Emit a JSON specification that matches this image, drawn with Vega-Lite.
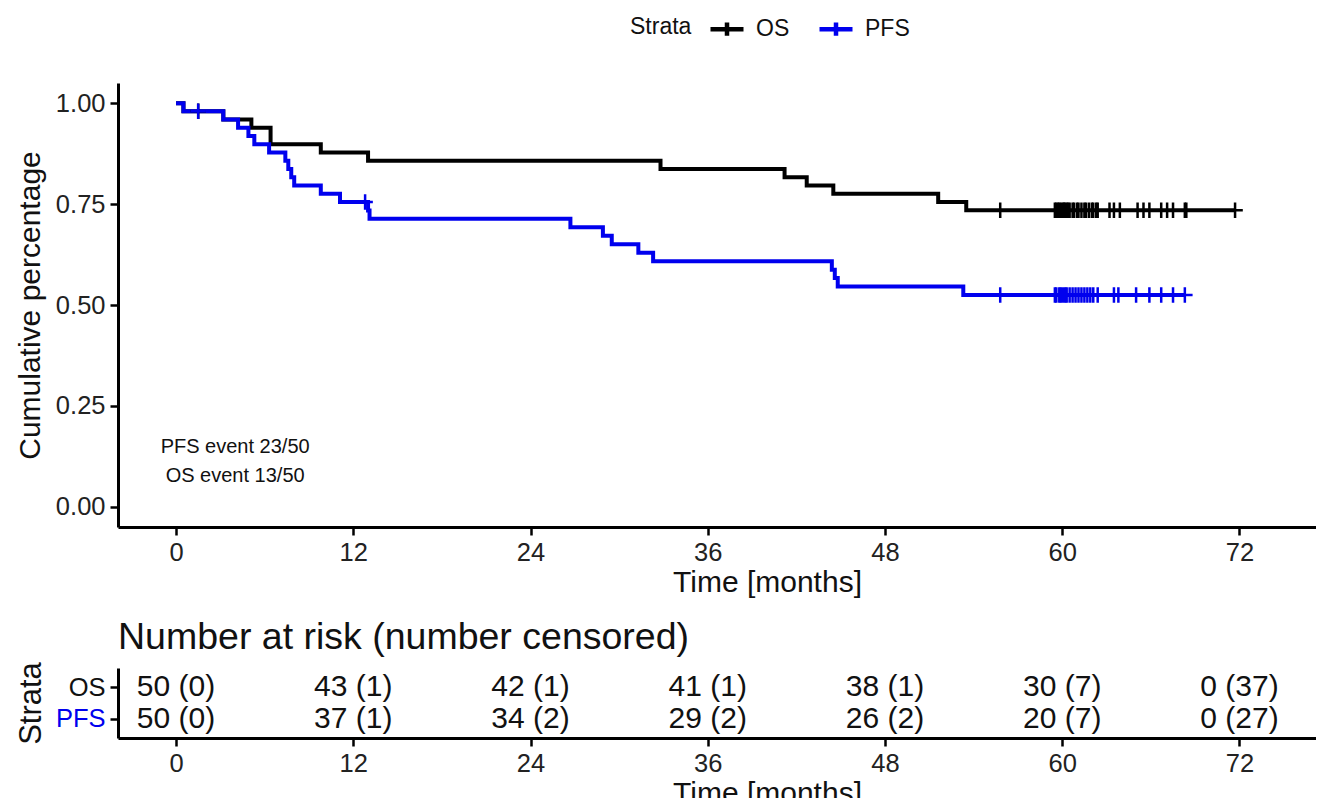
{
  "$schema": "https://vega.github.io/schema/vega-lite/v6.json",
  "padding": {"left": 15, "top": 10, "right": 0, "bottom": 0},
  "bounds": "flush",
  "spacing": 141,
  "config": {
    "font": "Liberation Sans",
    "view": {"stroke": null},
    "axis": {
      "domainColor": "#000000", "domainWidth": 3, "tickColor": "#000000", "tickWidth": 2.5, "tickSize": 8,
      "labelColor": "#222222", "labelFontSize": 25.5, "labelPadding": 5,
      "titleFontSize": 30, "titleFontWeight": "normal", "titleColor": "#111111", "grid": false
    }
  },
  "datasets": {
    "km": [
      {"strata": "OS", "time": 0, "surv": 1},
      {"strata": "OS", "time": 0.5, "surv": 0.98},
      {"strata": "OS", "time": 3.2, "surv": 0.9596},
      {"strata": "OS", "time": 5.1, "surv": 0.9392},
      {"strata": "OS", "time": 6.4, "surv": 0.8983},
      {"strata": "OS", "time": 9.8, "surv": 0.8779},
      {"strata": "OS", "time": 13.0, "surv": 0.8575},
      {"strata": "OS", "time": 32.8, "surv": 0.8371},
      {"strata": "OS", "time": 41.2, "surv": 0.8167},
      {"strata": "OS", "time": 42.7, "surv": 0.7963},
      {"strata": "OS", "time": 44.5, "surv": 0.7758},
      {"strata": "OS", "time": 51.6, "surv": 0.7554},
      {"strata": "OS", "time": 53.5, "surv": 0.735},
      {"strata": "OS", "time": 71.7, "surv": 0.735},
      {"strata": "PFS", "time": 0, "surv": 1},
      {"strata": "PFS", "time": 0.5, "surv": 0.98},
      {"strata": "PFS", "time": 3.2, "surv": 0.9596},
      {"strata": "PFS", "time": 4.2, "surv": 0.9392},
      {"strata": "PFS", "time": 4.9, "surv": 0.9188},
      {"strata": "PFS", "time": 5.3, "surv": 0.8983},
      {"strata": "PFS", "time": 6.3, "surv": 0.8779},
      {"strata": "PFS", "time": 7.4, "surv": 0.8575},
      {"strata": "PFS", "time": 7.6, "surv": 0.8371},
      {"strata": "PFS", "time": 7.8, "surv": 0.8167},
      {"strata": "PFS", "time": 8.0, "surv": 0.7963},
      {"strata": "PFS", "time": 9.8, "surv": 0.7758},
      {"strata": "PFS", "time": 11.1, "surv": 0.7554},
      {"strata": "PFS", "time": 13.0, "surv": 0.7344},
      {"strata": "PFS", "time": 13.1, "surv": 0.7135},
      {"strata": "PFS", "time": 26.7, "surv": 0.6925},
      {"strata": "PFS", "time": 28.9, "surv": 0.6715},
      {"strata": "PFS", "time": 29.5, "surv": 0.6505},
      {"strata": "PFS", "time": 31.3, "surv": 0.6295},
      {"strata": "PFS", "time": 32.3, "surv": 0.6086},
      {"strata": "PFS", "time": 44.4, "surv": 0.5876},
      {"strata": "PFS", "time": 44.6, "surv": 0.5666},
      {"strata": "PFS", "time": 44.8, "surv": 0.5456},
      {"strata": "PFS", "time": 53.3, "surv": 0.5246},
      {"strata": "PFS", "time": 68.3, "surv": 0.5246}
    ],
    "cens": [
      {"strata": "OS", "time": 1.5, "surv": 0.98},
      {"strata": "OS", "time": 55.8, "surv": 0.735},
      {"strata": "OS", "time": 59.5, "surv": 0.735},
      {"strata": "OS", "time": 59.6, "surv": 0.735},
      {"strata": "OS", "time": 59.7, "surv": 0.735},
      {"strata": "OS", "time": 59.8, "surv": 0.735},
      {"strata": "OS", "time": 59.9, "surv": 0.735},
      {"strata": "OS", "time": 60.05, "surv": 0.735},
      {"strata": "OS", "time": 60.1, "surv": 0.735},
      {"strata": "OS", "time": 60.2, "surv": 0.735},
      {"strata": "OS", "time": 60.3, "surv": 0.735},
      {"strata": "OS", "time": 60.4, "surv": 0.735},
      {"strata": "OS", "time": 60.5, "surv": 0.735},
      {"strata": "OS", "time": 60.7, "surv": 0.735},
      {"strata": "OS", "time": 60.8, "surv": 0.735},
      {"strata": "OS", "time": 61.0, "surv": 0.735},
      {"strata": "OS", "time": 61.1, "surv": 0.735},
      {"strata": "OS", "time": 61.3, "surv": 0.735},
      {"strata": "OS", "time": 61.5, "surv": 0.735},
      {"strata": "OS", "time": 61.6, "surv": 0.735},
      {"strata": "OS", "time": 61.8, "surv": 0.735},
      {"strata": "OS", "time": 62.0, "surv": 0.735},
      {"strata": "OS", "time": 62.1, "surv": 0.735},
      {"strata": "OS", "time": 62.3, "surv": 0.735},
      {"strata": "OS", "time": 62.4, "surv": 0.735},
      {"strata": "OS", "time": 63.2, "surv": 0.735},
      {"strata": "OS", "time": 63.5, "surv": 0.735},
      {"strata": "OS", "time": 63.9, "surv": 0.735},
      {"strata": "OS", "time": 65.1, "surv": 0.735},
      {"strata": "OS", "time": 65.5, "surv": 0.735},
      {"strata": "OS", "time": 65.9, "surv": 0.735},
      {"strata": "OS", "time": 66.7, "surv": 0.735},
      {"strata": "OS", "time": 67.1, "surv": 0.735},
      {"strata": "OS", "time": 67.5, "surv": 0.735},
      {"strata": "OS", "time": 68.3, "surv": 0.735},
      {"strata": "OS", "time": 68.4, "surv": 0.735},
      {"strata": "OS", "time": 71.7, "surv": 0.735},
      {"strata": "PFS", "time": 1.5, "surv": 0.98},
      {"strata": "PFS", "time": 12.8, "surv": 0.7554},
      {"strata": "PFS", "time": 55.8, "surv": 0.5246},
      {"strata": "PFS", "time": 59.5, "surv": 0.5246},
      {"strata": "PFS", "time": 59.6, "surv": 0.5246},
      {"strata": "PFS", "time": 59.8, "surv": 0.5246},
      {"strata": "PFS", "time": 59.9, "surv": 0.5246},
      {"strata": "PFS", "time": 60.05, "surv": 0.5246},
      {"strata": "PFS", "time": 60.2, "surv": 0.5246},
      {"strata": "PFS", "time": 60.3, "surv": 0.5246},
      {"strata": "PFS", "time": 60.5, "surv": 0.5246},
      {"strata": "PFS", "time": 60.7, "surv": 0.5246},
      {"strata": "PFS", "time": 60.9, "surv": 0.5246},
      {"strata": "PFS", "time": 61.1, "surv": 0.5246},
      {"strata": "PFS", "time": 61.3, "surv": 0.5246},
      {"strata": "PFS", "time": 61.5, "surv": 0.5246},
      {"strata": "PFS", "time": 61.7, "surv": 0.5246},
      {"strata": "PFS", "time": 61.9, "surv": 0.5246},
      {"strata": "PFS", "time": 62.1, "surv": 0.5246},
      {"strata": "PFS", "time": 62.4, "surv": 0.5246},
      {"strata": "PFS", "time": 63.5, "surv": 0.5246},
      {"strata": "PFS", "time": 63.8, "surv": 0.5246},
      {"strata": "PFS", "time": 65.0, "surv": 0.5246},
      {"strata": "PFS", "time": 65.9, "surv": 0.5246},
      {"strata": "PFS", "time": 66.7, "surv": 0.5246},
      {"strata": "PFS", "time": 67.5, "surv": 0.5246},
      {"strata": "PFS", "time": 68.3, "surv": 0.5246}
    ],
    "notes": [
      {"label": "PFS event 23/50", "time": 4.0, "surv": 0.149},
      {"label": "OS event 13/50", "time": 4.0, "surv": 0.077}
    ],
    "risk": [
      {"strata": "OS", "time": 0, "label": "50 (0)"},
      {"strata": "OS", "time": 12, "label": "43 (1)"},
      {"strata": "OS", "time": 24, "label": "42 (1)"},
      {"strata": "OS", "time": 36, "label": "41 (1)"},
      {"strata": "OS", "time": 48, "label": "38 (1)"},
      {"strata": "OS", "time": 60, "label": "30 (7)"},
      {"strata": "OS", "time": 72, "label": "0 (37)"},
      {"strata": "PFS", "time": 0, "label": "50 (0)"},
      {"strata": "PFS", "time": 12, "label": "37 (1)"},
      {"strata": "PFS", "time": 24, "label": "34 (2)"},
      {"strata": "PFS", "time": 36, "label": "29 (2)"},
      {"strata": "PFS", "time": 48, "label": "26 (2)"},
      {"strata": "PFS", "time": 60, "label": "20 (7)"},
      {"strata": "PFS", "time": 72, "label": "0 (27)"}
    ]
  },
  "vconcat": [
    {
      "width": 1198,
      "height": 444,
      "layer": [
        {
          "data": {"name": "km"},
          "mark": {"type": "line", "interpolate": "step-after", "strokeWidth": 4},
          "encoding": {
            "x": {"field": "time", "type": "quantitative",
              "scale": {"domain": [-3.93, 77.18], "nice": false, "zero": false},
              "axis": {"values": [0, 12, 24, 36, 48, 60, 72], "title": "Time [months]", "titleX": 649, "titlePadding": 2}},
            "y": {"field": "surv", "type": "quantitative",
              "scale": {"domain": [-0.05, 1.05], "nice": false, "zero": false},
              "axis": {"values": [0, 0.25, 0.5, 0.75, 1], "format": ".2f", "title": "Cumulative percentage", "titlePadding": 10}},
            "color": {"field": "strata", "type": "nominal",
              "scale": {"domain": ["OS", "PFS"], "range": ["#000000", "#0000ee"]},
              "legend": {"orient": "none", "legendX": 512, "legendY": -73, "direction": "horizontal",
                "title": "Strata", "titleOrient": "left", "titleFontSize": 23, "titleFontWeight": "normal",
                "titleColor": "#111111", "titlePadding": 16, "labelFontSize": 23, "labelColor": "#111111",
                "labelOffset": 10, "columnPadding": 20,
                "symbolType": "M-1,0L1,0M0,-0.4L0,0.4", "symbolSize": 1089, "symbolStrokeWidth": 4.5}}
          }
        },
        {
          "data": {"name": "cens"},
          "mark": {"type": "point", "shape": "M-1,0L1,0M0,-1L0,1", "size": 240, "strokeWidth": 2.5, "filled": false, "opacity": 1},
          "encoding": {
            "x": {"field": "time", "type": "quantitative"},
            "y": {"field": "surv", "type": "quantitative"},
            "color": {"field": "strata", "type": "nominal"}
          }
        },
        {
          "data": {"name": "notes"},
          "mark": {"type": "text", "fontSize": 20, "align": "center", "color": "#111111"},
          "encoding": {
            "x": {"field": "time", "type": "quantitative"},
            "y": {"field": "surv", "type": "quantitative"},
            "text": {"field": "label"}
          }
        }
      ]
    },
    {
      "width": 1198,
      "height": 70,
      "title": {"text": "Number at risk (number censored)", "anchor": "start", "frame": "group", "fontSize": 37.5, "fontWeight": "normal", "color": "#111111", "offset": 5},
      "data": {"name": "risk"},
      "mark": {"type": "text", "fontSize": 30, "color": "#111111"},
      "encoding": {
        "x": {"field": "time", "type": "quantitative",
          "scale": {"domain": [-3.93, 77.18], "nice": false, "zero": false},
          "axis": {"values": [0, 12, 24, 36, 48, 60, 72], "title": "Time [months]", "titleX": 649, "titlePadding": 2}},
        "y": {"field": "strata", "type": "nominal",
          "scale": {"type": "point", "domain": ["OS", "PFS"], "padding": 0.6},
          "axis": {"title": "Strata", "titleFontSize": 31, "titlePadding": 8,
            "labelColor": {"condition": {"test": "datum.value === 'PFS'", "value": "#0000ee"}, "value": "#111111"}}},
        "text": {"field": "label"}
      }
    }
  ]
}
